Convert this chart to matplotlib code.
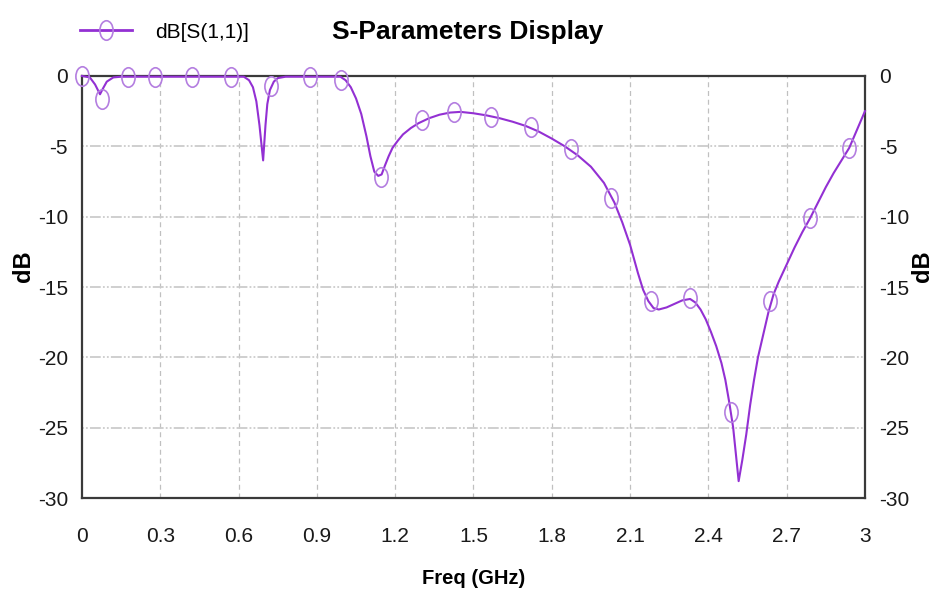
import numpy as np
import matplotlib
matplotlib.use("Agg")
import matplotlib.pyplot as plt
from matplotlib.lines import Line2D
from matplotlib.markers import MarkerStyle
from matplotlib.path import Path
from matplotlib.transforms import Affine2D

plt.rcParams["axes.unicode_minus"] = False

# S11 trace (GHz, dB) as read from the simulator export
freq = [0.00, 0.03, 0.05, 0.069, 0.08, 0.095, 0.12, 0.15,
        0.62, 0.64, 0.655, 0.668, 0.68, 0.694, 0.703, 0.71, 0.72, 0.735,
        0.75, 0.78,
        0.99, 1.01, 1.03, 1.05, 1.07, 1.09, 1.105, 1.12, 1.135, 1.148, 1.16,
        1.175, 1.19, 1.21, 1.23, 1.26, 1.29, 1.33, 1.37, 1.41, 1.45, 1.50,
        1.55, 1.60, 1.65, 1.70, 1.75, 1.80, 1.85, 1.90, 1.95, 2.00, 2.04,
        2.07, 2.10, 2.13, 2.15, 2.17, 2.19, 2.21, 2.24, 2.27, 2.30, 2.33,
        2.35, 2.37, 2.39, 2.41, 2.43, 2.45, 2.465, 2.48, 2.495, 2.505, 2.516,
        2.53, 2.545, 2.56, 2.575, 2.59, 2.61, 2.63, 2.65, 2.67, 2.70, 2.73,
        2.76, 2.79, 2.82, 2.85, 2.88, 2.91, 2.94, 2.97, 3.00]
s11_db = [0.0, -0.1, -0.6, -1.3, -0.9, -0.4, -0.1, -0.05,
          -0.05, -0.3, -0.8, -1.8, -3.5, -6.0, -3.5, -2.0, -1.0, -0.4,
          -0.15, -0.05,
          -0.05, -0.3, -0.8, -1.6, -2.7, -4.3, -5.7, -6.8, -7.1, -7.0, -6.4,
          -5.7, -5.1, -4.6, -4.15, -3.7, -3.35, -3.0, -2.75, -2.6, -2.55, -2.65,
          -2.8, -3.0, -3.25, -3.55, -3.95, -4.45, -5.0, -5.65, -6.45, -7.6, -9.0,
          -10.4, -12.0, -14.0, -15.2, -16.0, -16.5, -16.6, -16.45, -16.2, -15.95, -15.85,
          -16.1, -16.6, -17.3, -18.2, -19.2, -20.4, -21.6, -23.2, -25.0, -26.8, -28.8,
          -27.3, -25.5, -23.4, -21.6, -20.0, -18.4, -16.8, -15.5, -14.6, -13.4, -12.2,
          -11.1, -10.1, -9.0, -7.9, -6.9, -6.0, -5.1, -3.8, -2.5]

# marker sample points
mark_freq = [0.0, 0.077, 0.176, 0.28, 0.42, 0.57, 0.725, 0.875, 0.993, 1.147,
             1.304, 1.427, 1.569, 1.722, 1.872, 2.025, 2.18, 2.33, 2.485,
             2.635, 2.79, 2.94]
mark_db = [0.0, -1.6, -0.1, -0.1, -0.1, -0.1, -0.7, -0.1, -0.3, -7.2,
           -3.1, -2.55, -2.9, -3.6, -5.2, -8.7, -16.0, -15.8, -23.9,
           -16.0, -10.1, -5.1]

x_ticks = [0, 0.3, 0.6, 0.9, 1.2, 1.5, 1.8, 2.1, 2.4, 2.7, 3]
x_labels = ["0", "0.3", "0.6", "0.9", "1.2", "1.5", "1.8", "2.1", "2.4", "2.7", "3"]
y_ticks = [0, -5, -10, -15, -20, -25, -30]

LINE_C = "#9330d3"
MARK_C = "#b47ee0"
FONT = ["Liberation Sans", "DejaVu Sans"]

# tall ellipse marker
oval = MarkerStyle(Path.unit_circle().transformed(Affine2D().scale(0.68, 1.0)))

fig = plt.figure(figsize=(9.35, 5.97), dpi=100)
ax = fig.add_axes([0.0877, 0.1658, 0.8374, 0.7069])

ax.plot(freq, s11_db, color=LINE_C, lw=1.5, zorder=3, clip_on=False)
ax.plot(mark_freq, mark_db, ls="none", marker=oval, ms=14, mfc="none",
        mec=MARK_C, mew=1.2, zorder=3, clip_on=False)

ax.set_xlim(0, 3)
ax.set_ylim(-30, 0)
ax.set_xticks(x_ticks)
ax.set_xticklabels(x_labels)
ax.set_yticks(y_ticks)

# grid: dashed verticals, dash-dot-dot horizontals
for xv in x_ticks[1:-1]:
    ax.axvline(xv, color="#c0c0c0", lw=0.9, dashes=(4, 3), zorder=1)
for yv in y_ticks[1:-1]:
    ax.axhline(yv, color="#cccccc", lw=1.3, dashes=(1, 1.2, 1, 1.2, 6, 1.2),
               zorder=1)

for sp in ax.spines.values():
    sp.set_color("#3a3a3a")
    sp.set_linewidth(1.6)

ax.tick_params(axis="both", length=0, labelsize=15, colors="#1a1a1a")
ax.tick_params(axis="x", pad=21)
ax.tick_params(axis="y", pad=10, labelright=True)
for lab in ax.get_xticklabels() + ax.get_yticklabels():
    lab.set_family(FONT)

ax.set_xlabel("Freq (GHz)", fontsize=14.5, fontweight="bold", family=FONT,
              va="center")
ax.xaxis.set_label_coords(0.5, -0.19)

ax.set_ylabel("dB", fontsize=17, fontweight="bold", family=FONT, va="center")
ax.yaxis.set_label_coords(-0.075, 0.55)
ax.text(1.074, 0.55, "dB", transform=ax.transAxes, rotation=90,
        fontsize=17, fontweight="bold", family=FONT, ha="center", va="center")

fig.text(0.5, 0.946, "S-Parameters Display", ha="center", va="center",
         fontsize=19, fontweight="bold", family=FONT)

handle = Line2D([], [], color=LINE_C, lw=2, marker=oval, ms=14, mfc="none",
                mec=MARK_C, mew=1.2)
fig.legend([handle], ["dB[S(1,1)]"], loc="center left",
           bbox_to_anchor=(80 / 935, 1 - 32 / 597), frameon=False,
           borderpad=0, borderaxespad=0, handlelength=2.5, handletextpad=1.1,
           prop={"family": FONT, "size": 15})

fig.savefig("out.png", dpi=100)
